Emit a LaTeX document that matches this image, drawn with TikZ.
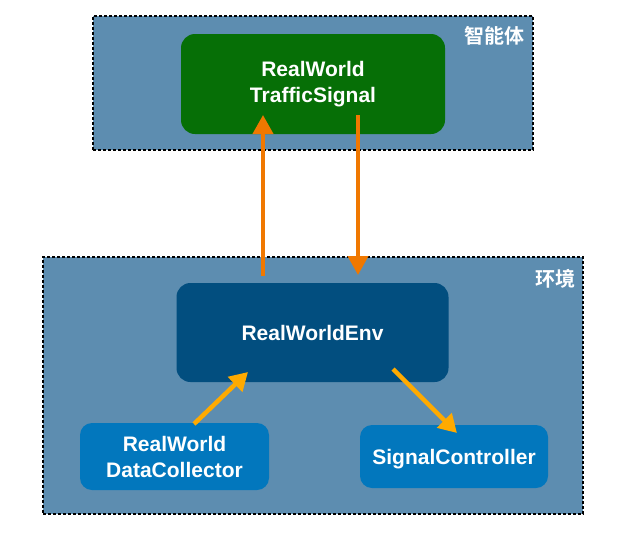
\documentclass[tikz,border=0pt]{standalone}
\usepackage{fontspec}
\setmainfont{Liberation Sans}
\newfontfamily\cjk{Noto Sans CJK SC}[BoldFont={* Bold}]
\usetikzlibrary{arrows.meta,calc}
\definecolor{contfill}{HTML}{5D8DB0}
\definecolor{agentgreen}{HTML}{066F06}
\definecolor{envblue}{HTML}{024E7F}
\definecolor{subblue}{HTML}{0277BD}
\definecolor{arrorange}{HTML}{F07800}
\definecolor{arryellow}{HTML}{FFAA00}
\tikzset{
  container/.style={draw=black, fill=contfill, line width=1.5pt, dash pattern=on 3pt off 2pt, inner sep=0pt},
  boxnode/.style={rounded corners=14pt, draw=none, text=white, align=center, inner sep=0pt,
    font=\bfseries\fontsize{21}{26}\selectfont},
  cjklabel/.style={text=white, inner sep=0pt, font=\cjk\bfseries\fontsize{20}{24}\selectfont},
  bigarrow/.style={draw=arrorange, line width=4pt, -{Triangle[width=20pt,length=19pt]}},
  smallarrow/.style={draw=arryellow, line width=4.5pt, -{Triangle[width=20pt,length=18pt]}}
}
\begin{document}
\begin{tikzpicture}[x=1pt,y=-1pt]
\useasboundingbox (0,0) rectangle (624,533);
% containers
\node[container, minimum width=440pt, minimum height=134pt] (agentbox) at (313,83) {};
\node[container, minimum width=540pt, minimum height=257pt] (envcont) at (313,385.5) {};
\node[cjklabel] (agentlbl) at (494.5,36) {智能体};
\node[cjklabel] (envlbl) at (555,278.5) {环境};
% boxes
\node[boxnode, fill=agentgreen, minimum width=264pt, minimum height=100pt] (agent) at (313,84) {RealWorld\\TrafficSignal};
\node[boxnode, fill=envblue, minimum width=272pt, minimum height=99pt] (env) at (312.5,332.5) {RealWorldEnv};
\node[boxnode, fill=subblue, rounded corners=12pt, minimum width=189pt, minimum height=67pt] (dc) at (174.5,456.5) {RealWorld\\DataCollector};
\node[boxnode, fill=subblue, rounded corners=12pt, minimum width=188pt, minimum height=63pt, text height=20pt, text depth=4.5pt] (sc) at (454,456.5) {SignalController};
% arrow anchor coordinates
\coordinate (upS) at (263,276);
\coordinate (upE) at (263,115);
\coordinate (dnS) at (358,115);
\coordinate (dnE) at (358,275);
\coordinate (dcS) at (194,424);
\coordinate (dcE) at (248,372);
\coordinate (scS) at (393,369);
\coordinate (scE) at (457,433);
% arrows
\draw[bigarrow] (upS) -- (upE);
\draw[bigarrow] (dnS) -- (dnE);
\draw[smallarrow] (dcS) -- (dcE);
\draw[smallarrow] (scS) -- (scE);
\end{tikzpicture}
\end{document}
